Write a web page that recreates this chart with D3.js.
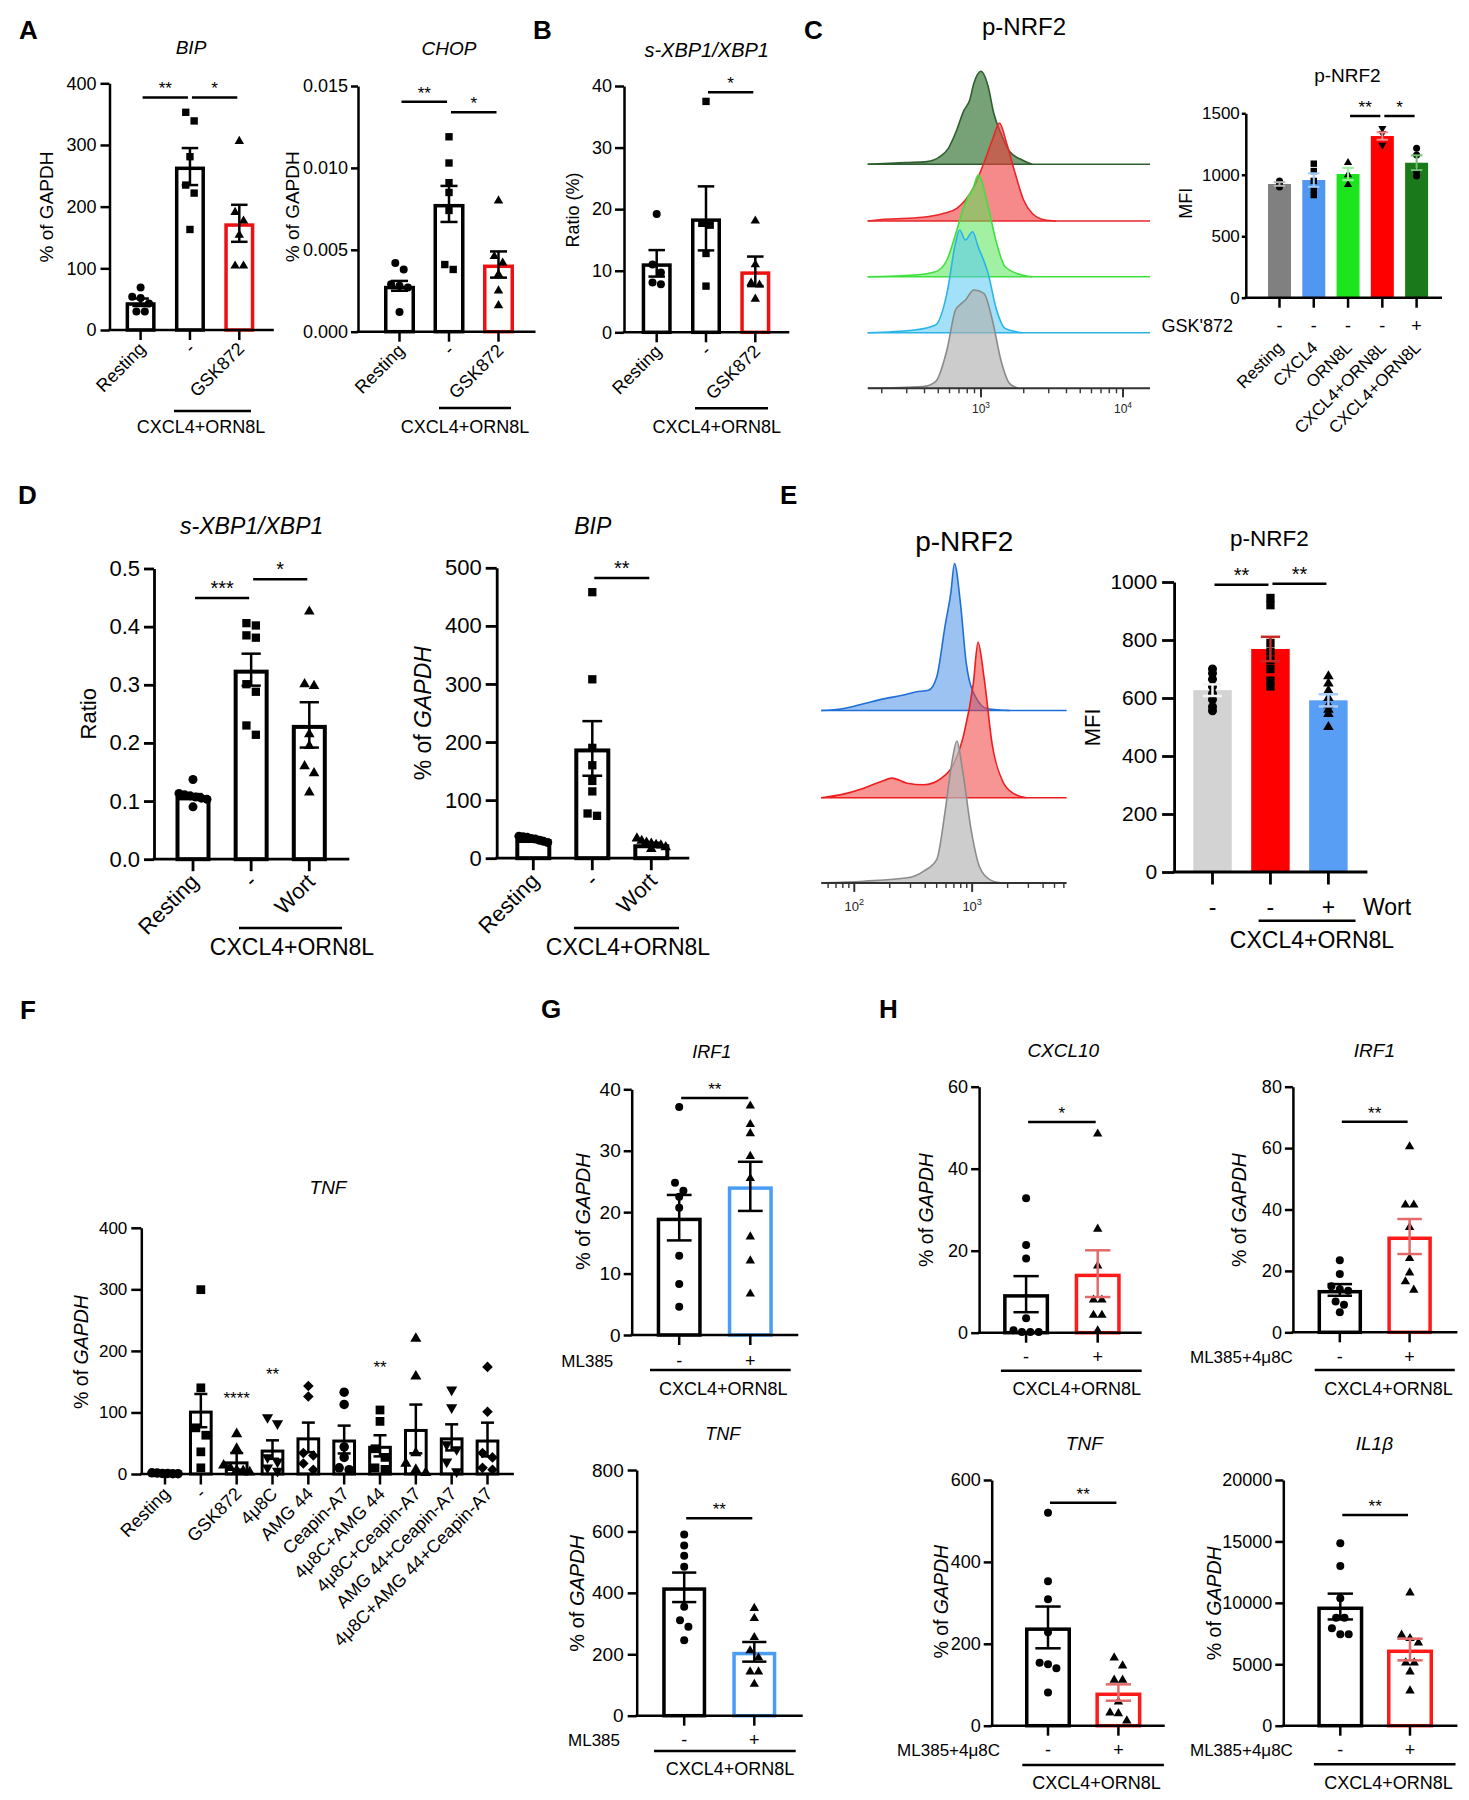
<!DOCTYPE html>
<html><head><meta charset="utf-8">
<script src="https://cdn.jsdelivr.net/npm/d3@7"></script>
<style>body{margin:0;background:#fff} svg{display:block}</style>
</head><body>
<svg id="fig" width="1469" height="1800"></svg>
<script>
// ================= DATA =================
// Panel A - BIP
const A_BIP_cats = ["Resting", "-", "GSK872"];
const A_BIP_means = [45, 265, 173];
const A_BIP_sem = [6, 30, 30];
const A_BIP_pts = [[69,54,52,43,30,30],[353,339,281,235,222,163],[306,191,177,154,104,104]];
const A_BIP_ticks = [0,100,200,300,400];
// Panel A - CHOP
const A_CHOP_cats = ["Resting", "-", "GSK872"];
const A_CHOP_means = [0.0028, 0.0078, 0.0041];
const A_CHOP_sem = [0.0003, 0.0011, 0.0008];
const A_CHOP_pts = [[0.0042,0.0038,0.0029,0.0028,0.0027,0.0012],[0.0119,0.0103,0.0091,0.0085,0.0074,0.0041,0.0038],[0.0080,0.0046,0.0042,0.0035,0.0025,0.0016]];
const A_CHOP_ticks = [0,0.005,0.010,0.015];
// Panel B
const B_cats = ["Resting", "-", "GSK872"];
const B_means = [11.2, 18.5, 9.9];
const B_sem = [2.15, 5.2, 2.4];
const B_pts = [[19.2,11,9.7,7.8,8.1],[37.5,17.7,17.4,12.8,7.5],[18.1,11,8,7.7,5.4]];
const B_ticks = [0,10,20,30,40];
// Panel C - bars
const C_cats = ["Resting","CXCL4","ORN8L","CXCL4+ORN8L","CXCL4+ORN8L"];
const C_gsk = ["-","-","-","-","+"];
const C_means = [925, 957, 1006, 1315, 1098];
const C_sem = [15, 55, 50, 30, 60];
const C_pts = [[950,925,900],[1090,1030,950,880,835],[1098,1000,920],[1378,1337,1242],[1215,1161,1025,990]];
const C_ticks = [0,500,1000,1500];
// Panel C - histograms [log10(intensity), count]
const C_hist_darkgreen = [[2.20,0],[2.47,1.7],[2.62,2.7],[2.71,7.7],[2.77,16],[2.82,31],[2.88,54],[2.92,64],[2.95,81],[3.0,93],[3.05,78],[3.09,51],[3.14,31],[3.2,13],[3.29,4.3],[3.36,0]];
const C_hist_red = [[2.20,0],[2.32,1.7],[2.59,3.7],[2.74,7.7],[2.83,12.7],[2.89,21],[2.95,34],[3.02,58],[3.08,81],[3.13,98],[3.18,78],[3.24,48],[3.30,21],[3.36,7.7],[3.45,1],[3.53,0]];
const C_hist_green = [[2.20,0],[2.53,1.7],[2.68,5],[2.76,16.7],[2.83,46.7],[2.88,70],[2.91,80],[2.94,86.7],[2.98,101.7],[3.05,70],[3.11,33.3],[3.17,10],[3.29,1.7],[3.36,0]];
const C_hist_cyan = [[2.20,0],[2.53,2.7],[2.68,7.7],[2.76,39.3],[2.82,89.3],[2.85,102.7],[2.89,92.7],[2.94,101],[2.98,86],[3.05,59.3],[3.11,22.7],[3.17,4.3],[3.29,0]];
const C_hist_gray = [[2.20,0],[2.59,1.7],[2.68,6.7],[2.76,38.3],[2.82,78.3],[2.85,83.3],[2.89,88.3],[2.95,98.3],[3.02,95],[3.08,68.3],[3.14,28.3],[3.20,5],[3.26,0]];
// Panel D - s-XBP1/XBP1
const D_X_cats = ["Resting", "-", "Wort"];
const D_X_means = [0.108, 0.326, 0.231];
const D_X_sem = [0.004, 0.0275, 0.039];
const D_X_pts = [[0.137,0.113,0.111,0.109,0.107,0.105,0.103,0.090],[0.406,0.402,0.385,0.381,0.301,0.288,0.230,0.214],[0.426,0.301,0.298,0.215,0.195,0.160,0.148,0.115]];
const D_X_ticks = [0,0.1,0.2,0.3,0.4,0.5];
// Panel D - BIP
const D_B_cats = ["Resting", "-", "Wort"];
const D_B_means = [33, 189, 24];
const D_B_sem = [2, 47, 2.5];
const D_B_pts = [[38,37,36,34,33,31,29,27],[458,308,190,160,133,115,77,73],[34,30,27,25,23,22,19,16]];
const D_B_ticks = [0,100,200,300,400,500];
// Panel E - bars
const E_signs = ["-","-","+"];
const E_means = [627, 769, 592];
const E_sem = [20, 42, 21];
const E_pts = [[700,685,665,640,615,595,570,556],[945,920,790,760,730,700,660,640],[675,650,625,600,575,560,545,500]];
const E_ticks = [0,200,400,600,800,1000];
// Panel E - histograms
const E_hist_blue = [[1.72,0],[1.90,1.7],[2.08,6.7],[2.26,11.7],[2.41,15],[2.52,18.3],[2.63,20],[2.70,33.3],[2.77,83.3],[2.82,116.7],[2.85,145],[2.90,106.7],[2.95,46.7],[3.03,13.3],[3.13,1.7],[3.32,0]];
const E_hist_red = [[1.72,0],[1.90,3.3],[2.08,9.3],[2.23,16],[2.32,19.3],[2.45,14.3],[2.59,12.7],[2.74,19.3],[2.84,32.7],[2.93,62.7],[3.01,112.7],[3.05,153.3],[3.10,119.3],[3.17,52.7],[3.26,16],[3.35,4.3],[3.46,0]];
const E_hist_gray = [[1.72,0],[2.08,1.7],[2.45,5],[2.59,11.7],[2.70,23.3],[2.77,70],[2.83,120],[2.87,140],[2.92,110],[2.99,53.3],[3.06,16.7],[3.15,3.3],[3.24,0]];
// Panel F - TNF
const F_cats = ["Resting","-","GSK872","4\u03bc8C","AMG 44","Ceapin-A7","4\u03bc8C+AMG 44","4\u03bc8C+Ceapin-A7","AMG 44+Ceapin-A7","4\u03bc8C+AMG 44+Ceapin-A7"];
const F_means = [1, 103, 20.5, 39.7, 59.5, 56, 45.8, 73.2, 59.5, 56];
const F_sem = [0.5, 27, 13.5, 15, 24, 22.6, 17.2, 39.6, 21.2, 27.4];
const F_pts = [[2,1.5,1,1,0.5,0.5],[299.5,140,75,63,36,10],[65,41,14,10,6,5,3],[92,82,27,20,10,5],[143,126,34,30,17,7],[133,113,44,27,10,7],[104,85.5,41,27,10,7.5],[220,158.6,34,17,7,2],[137,108,48,40,20,4],[174,101,34,27,10,7]];
const F_stars = [[2,"****"],[3,"**"],[6,"**"]];
const F_ticks = [0,100,200,300,400];
// Panel G
const G_signs = ["-","+"];
const G_IRF1_means = [19.1, 24.2];
const G_IRF1_sem = [3.7, 4.0];
const G_IRF1_pts = [[37.1,24.8,23.5,22.5,20.7,12.9,8.3,4.6],[37.3,34.3,32.8,29.1,25.5,16,12.1,6.7]];
const G_IRF1_ticks = [0,10,20,30,40];
const G_TNF_means = [418, 208];
const G_TNF_sem = [48, 32];
const G_TNF_pts = [[590,554,521,485,355,311,290,246],[350,317,255,212,189,143,143,103]];
const G_TNF_ticks = [0,200,400,600,800];
// Panel H
const H_signs = ["-","+"];
const H_CXCL10_means = [9.4, 14.4];
const H_CXCL10_sem = [4.4, 5.7];
const H_CXCL10_pts = [[32.8,21.4,18.1,3.5,0.6,0.2,0.2,0.2],[48.5,25.3,16.3,8,8,4.3,4.3,0.5]];
const H_CXCL10_ticks = [0,20,40,60];
const H_IRF1_means = [13.8, 31.2];
const H_IRF1_sem = [1.9, 5.7];
const H_IRF1_pts = [[23.5,19,15,14,13.5,10,9,6.5],[60.5,41.5,41.5,34.2,24.1,19.4,16.5,13.8]];
const H_IRF1_ticks = [0,20,40,60,80];
const H_TNF_means = [240, 81];
const H_TNF_sem = [51, 20];
const H_TNF_pts = [[520,353,309,228,154,150,140,81],[166,146.5,111.5,111.5,58.6,31.7,30,12.2]];
const H_TNF_ticks = [0,200,400,600];
const H_IL1B_means = [9700, 6200];
const H_IL1B_sem = [1050, 880];
const H_IL1B_pts = [[14844,13000,10366,8792,8792,7924,7436,7436],[10828,7381,7110,6757,5129,5129,4396,2849]];
const H_IL1B_ticks = [0,5000,10000,15000,20000];

const GROUP = "CXCL4+ORN8L";
const GAPDH_LABEL = [{t:"% of "},{t:"GAPDH", i:true}];

// ================= DRAWING =================
const FONT = '"Liberation Sans", Arial, Helvetica, sans-serif';
const svg = d3.select("#fig");
svg.append("rect").attr("width",1469).attr("height",1800).attr("fill","#fff");

function addText(g, txt, x, y, o = {}) {
  const t = g.append("text").attr("x", x).attr("y", y)
    .attr("font-family", FONT).attr("fill", o.fill || "#000")
    .attr("font-size", o.size || 18).attr("text-anchor", o.anchor || "middle")
    .attr("font-style", o.italic ? "italic" : "normal")
    .attr("font-weight", o.bold ? "bold" : "normal");
  if (o.rotate != null) t.attr("transform", `rotate(${o.rotate},${x},${y})`);
  if (o.baseline) t.attr("dominant-baseline", o.baseline);
  if (Array.isArray(txt)) txt.forEach(p => t.append("tspan").attr("font-style", p.i ? "italic" : "normal").text(p.t));
  else t.text(txt);
  return t;
}

function marker(g, type, x, y, m) {
  let sym, size, rot = 0;
  switch (type) {
    case "circle": sym = d3.symbolCircle; size = Math.PI * m * m / 4; break;
    case "square": sym = d3.symbolSquare; size = m * m * 0.85; break;
    case "triangle": sym = d3.symbolTriangle; size = m * m * 0.6; break;
    case "tridown": sym = d3.symbolTriangle; size = m * m * 0.6; rot = 180; break;
    case "diamond": sym = d3.symbolSquare; size = m * m * 0.62; rot = 45; break;
  }
  g.append("path").attr("d", d3.symbol(sym, size)())
    .attr("transform", `translate(${x},${y}) rotate(${rot})`).attr("fill", "#000");
}

function swarm(vals, y, m, maxW, jit) {
  const pts = vals.map(v => ({ v, py: y(v), dx: 0 })).sort((a, b) => a.py - b.py);
  if (!jit) return pts;
  const rows = []; let cur = null;
  pts.forEach(p => {
    if (cur && p.py - cur[0].py < m * 1.1) cur.push(p);
    else { cur = [p]; rows.push(cur); }
  });
  rows.forEach(r => {
    const k = r.length; let step = m * jit;
    if (k > 1 && (k - 1) * step > maxW) step = maxW / (k - 1);
    r.forEach((p, i) => p.dx = (i - (k - 1) / 2) * step);
  });
  return pts;
}

function barChart(D, L) {
  const g = svg.append("g");
  const n = D.means.length;
  const y = d3.scaleLinear().domain([0, L.max]).range([L.yb, L.yt]);
  const x = d3.scalePoint().domain(d3.range(n)).range([L.c0, L.c1]);
  const bsw = L.bsw || 3.5, aw = L.aw || 2.5;
  D.means.forEach((v, i) => {
    const cx = x(i), col = L.colors[i];
    if (L.filled) {
      g.append("rect").attr("x", cx - L.barW / 2).attr("y", y(v)).attr("width", L.barW)
        .attr("height", L.yb - y(v)).attr("fill", col);
    } else {
      g.append("rect").attr("x", cx - L.barW / 2 + bsw / 2).attr("y", y(v) + bsw / 2)
        .attr("width", L.barW - bsw).attr("height", Math.max(0, L.yb - y(v) - bsw / 2))
        .attr("fill", "#fff").attr("stroke", col).attr("stroke-width", bsw);
    }
  });
  D.pts.forEach((arr, i) => {
    const sw = swarm(arr, y, L.mSize, L.barW * (L.spread || 0.8), L.jitter === undefined ? 1.05 : L.jitter);
    sw.forEach(p => marker(g, L.markers[i], x(i) + p.dx, p.py, L.mSize));
  });
  D.means.forEach((v, i) => {
    const cx = x(i), s = D.sem[i];
    const col = (L.errColors || [])[i] || "#000";
    const cw = L.barW * (L.capF || 0.55);
    const y1 = y(v + s), y2 = y(Math.max(0, v - s));
    const ew = L.ew || 2.5;
    g.append("line").attr("x1", cx).attr("x2", cx).attr("y1", y1).attr("y2", y2).attr("stroke", col).attr("stroke-width", ew);
    [y1, y2].forEach(yy => g.append("line").attr("x1", cx - cw / 2).attr("x2", cx + cw / 2)
      .attr("y1", yy).attr("y2", yy).attr("stroke", col).attr("stroke-width", ew));
  });
  const ya = d3.axisLeft(y).tickValues(D.ticks).tickFormat(L.fmt || d3.format("d"))
    .tickSize(L.tickLen).tickPadding(L.tickPad).tickSizeOuter(0);
  const ag = g.append("g").attr("transform", `translate(${L.ax},0)`).call(ya);
  ag.attr("font-family", FONT);
  ag.select(".domain").attr("stroke", "#000").attr("stroke-width", aw);
  ag.selectAll(".tick line").attr("stroke", "#000").attr("stroke-width", aw);
  ag.selectAll(".tick text").attr("font-size", L.tickFont).attr("font-family", FONT).attr("fill", "#000");
  g.append("line").attr("x1", L.ax - aw / 2).attr("x2", L.axEnd).attr("y1", L.yb).attr("y2", L.yb)
    .attr("stroke", "#000").attr("stroke-width", aw);
  d3.range(n).forEach(i => g.append("line").attr("x1", x(i)).attr("x2", x(i))
    .attr("y1", L.yb).attr("y2", L.yb + L.xTickLen).attr("stroke", "#000").attr("stroke-width", aw));
  if (L.rot) D.cats.forEach((c, i) => addText(g, c, x(i) + L.rot.dx, L.yb + L.rot.dy,
    { size: L.rot.size, anchor: "end", rotate: -45 }));
  if (L.signs) {
    D.signs.forEach((s, i) => addText(g, s, x(i), L.signs.y, { size: L.signs.size }));
    if (D.signLabel) addText(g, D.signLabel, L.signs.lx, L.signs.y, { size: L.signs.lsize || L.signs.size, anchor: L.signs.anchor || "end" });
  }
  if (L.group) {
    g.append("line").attr("x1", L.group.x1).attr("x2", L.group.x2).attr("y1", L.group.y).attr("y2", L.group.y)
      .attr("stroke", "#000").attr("stroke-width", 2.5);
    addText(g, GROUP, L.group.lx, L.group.ly, { size: L.group.size });
  }
  (D.sig || []).forEach((s, k) => {
    const yy = y(L.sigLevels[k]);
    const x1 = x(s[0]) + 2, x2 = x(s[1]) - 2;
    g.append("line").attr("x1", x1).attr("x2", x2).attr("y1", yy).attr("y2", yy).attr("stroke", "#000").attr("stroke-width", 2.5);
    addText(g, s[2], (x1 + x2) / 2, yy - (L.starGap || 3), { size: L.starSize || 17 });
  });
  (D.stars || []).forEach((s, k) => {
    addText(g, s[1], x(s[0]), y(L.starLevels[k]) + 6, { size: L.starSize || 16 });
  });
  addText(g, D.title, L.title.x, L.title.y, { size: L.title.size, italic: L.title.italic });
  addText(g, D.ylabel, L.ylabel.x, L.ylabel.y, { size: L.ylabel.size, rotate: -90, baseline: "central" });
}

function histogram(series, L) {
  const g = svg.append("g");
  const x = d3.scaleLog().domain(L.domain).range([L.x0, L.x1]);
  const hs = L.hs || 1;
  series.forEach((s, k) => {
    const base = L.bases[k];
    const area = d3.area().x(d => x(Math.pow(10, d[0]))).y0(base).y1(d => base - d[1] * hs).curve(d3.curveMonotoneX);
    const line = d3.line().x(d => x(Math.pow(10, d[0]))).y(d => base - d[1] * hs).curve(d3.curveMonotoneX);
    g.append("path").attr("d", area(s.data)).attr("fill", s.fill).attr("fill-opacity", s.op);
    if (k < series.length - 1)
      g.append("line").attr("x1", L.x0).attr("x2", L.x1).attr("y1", base).attr("y2", base).attr("stroke", s.stroke).attr("stroke-width", 1.6);
    g.append("path").attr("d", line(s.data)).attr("fill", "none").attr("stroke", s.stroke).attr("stroke-width", 1.6);
  });
  const ay = L.bases[L.bases.length - 1];
  g.append("line").attr("x1", L.x0).attr("x2", L.x1).attr("y1", ay).attr("y2", ay).attr("stroke", "#333").attr("stroke-width", 2);
  const [lo, hi] = L.domain;
  for (let e = Math.floor(Math.log10(lo)); e <= Math.ceil(Math.log10(hi)); e++) {
    for (let m = 1; m <= 9; m++) {
      const v = m * Math.pow(10, e);
      if (v < lo || v > hi) continue;
      const xx = x(v);
      g.append("line").attr("x1", xx).attr("x2", xx).attr("y1", ay).attr("y2", ay + (m === 1 ? 9 : 5))
        .attr("stroke", "#333").attr("stroke-width", m === 1 ? 2 : 1.4);
      if (m === 1) {
        const t = g.append("text").attr("x", xx).attr("y", L.labelY).attr("text-anchor", "middle")
          .attr("font-family", FONT).attr("font-size", L.labelSize).attr("fill", "#222");
        t.append("tspan").text("10");
        t.append("tspan").attr("dy", -L.labelSize * 0.45).attr("font-size", L.labelSize * 0.7).text(String(e));
      }
    }
  }
  addText(g, L.title, L.tx, L.ty, { size: L.tsize });
}

// ---- panel letters ----
[["A",19,38.5],["B",533,38.5],["C",804,38.5],["D",18,504],["E",780,504],["F",20,1019],["G",541,1018],["H",879,1018]]
  .forEach(p => addText(svg, p[0], p[1], p[2], { size: 26, bold: true, anchor: "start" }));

// ---- A ----
barChart({ cats: A_BIP_cats, means: A_BIP_means, sem: A_BIP_sem, pts: A_BIP_pts, ticks: A_BIP_ticks,
  sig: [[0,1,"**"],[1,2,"*"]], title: "BIP", ylabel: "% of GAPDH" },
  { ax: 109.5, axEnd: 273.8, yb: 330, yt: 83.3, max: 400, c0: 140.6, c1: 239.3, barW: 30,
    colors: ["#000","#000","#ee1111"], markers: ["circle","square","triangle"], mSize: 8,
    tickLen: 9, tickPad: 4, tickFont: 18, xTickLen: 10,
    rot: { dx: 6, dy: 20, size: 18 }, group: { x1: 174, x2: 251, y: 411, lx: 201, ly: 433, size: 18 },
    sigLevels: [377, 377], title: { x: 191, y: 53.5, size: 19, italic: true }, ylabel: { x: 46.5, y: 207, size: 19 } });

barChart({ cats: A_CHOP_cats, means: A_CHOP_means, sem: A_CHOP_sem, pts: A_CHOP_pts, ticks: A_CHOP_ticks,
  sig: [[0,1,"**"],[1,2,"*"]], title: "CHOP", ylabel: "% of GAPDH" },
  { ax: 358, axEnd: 535.5, yb: 331.7, yt: 86, max: 0.015, c0: 399.5, c1: 498.5, barW: 31, fmt: d3.format(".3f"),
    colors: ["#000","#000","#ee1111"], markers: ["circle","square","triangle"], mSize: 8,
    tickLen: 7, tickPad: 3, tickFont: 18, xTickLen: 10,
    rot: { dx: 6, dy: 20, size: 18 }, group: { x1: 439, x2: 511, y: 408, lx: 465, ly: 433, size: 18 },
    sigLevels: [0.01404, 0.0134], title: { x: 449, y: 54.5, size: 19, italic: true }, ylabel: { x: 292.7, y: 206.7, size: 19 } });

// ---- B ----
barChart({ cats: B_cats, means: B_means, sem: B_sem, pts: B_pts, ticks: B_ticks,
  sig: [[1,2,"*"]], title: "s-XBP1/XBP1", ylabel: "Ratio (%)" },
  { ax: 624, axEnd: 789.3, yb: 332.3, yt: 86, max: 40, c0: 656.7, c1: 755.3, barW: 30,
    colors: ["#000","#000","#ee1111"], markers: ["circle","square","triangle"], mSize: 8,
    tickLen: 9, tickPad: 3, tickFont: 18, xTickLen: 10,
    rot: { dx: 6, dy: 20, size: 18 }, group: { x1: 695, x2: 768, y: 408.3, lx: 716.7, ly: 433, size: 18 },
    sigLevels: [38.98], title: { x: 706.7, y: 56.5, size: 20, italic: true }, ylabel: { x: 573.3, y: 210, size: 18 } });

// ---- C ----
histogram([
  { data: C_hist_darkgreen, stroke: "#2f5e2f", fill: "#3d7a3d", op: 0.7 },
  { data: C_hist_red, stroke: "#e8262b", fill: "#f03a3a", op: 0.6 },
  { data: C_hist_green, stroke: "#3ee03e", fill: "#55e655", op: 0.55 },
  { data: C_hist_cyan, stroke: "#2ab4e8", fill: "#55c8f0", op: 0.55 },
  { data: C_hist_gray, stroke: "#8a8a8a", fill: "#b0b0b0", op: 0.65 }],
  { domain: [160, 15500], x0: 868, x1: 1150, bases: [164.3, 221, 276.7, 332.7, 388.3],
    labelY: 413, labelSize: 12, title: "p-NRF2", tx: 1024, ty: 35, tsize: 24 });

barChart({ cats: C_cats, signs: C_gsk, signLabel: "GSK'872", means: C_means, sem: C_sem, pts: C_pts, ticks: C_ticks,
  sig: [[2,3,"**"],[3,4,"*"]], title: "p-NRF2", ylabel: "MFI" },
  { ax: 1245.8, axEnd: 1442, yb: 297.7, yt: 113.3, max: 1500, c0: 1279.5, c1: 1416.6, barW: 23, filled: true,
    colors: ["#808080","#4f97f0","#1de51d","#ff0000","#1a7a1a"], errColors: ["#b5b5b5","#a4cbf8","#9af29a","#ff8a8a","#6fbf6f"],
    markers: ["circle","square","triangle","tridown","circle"], mSize: 7, jitter: 0, capF: 0.5, ew: 2,
    tickLen: 4, tickPad: 2, tickFont: 17, xTickLen: 10,
    rot: { dx: 5, dy: 51, size: 17 }, signs: { y: 332, size: 18, lx: 1233 },
    sigLevels: [1478, 1478], title: { x: 1347.4, y: 82, size: 19 }, ylabel: { x: 1186, y: 203.3, size: 18 } });

// ---- D ----
barChart({ cats: D_X_cats, means: D_X_means, sem: D_X_sem, pts: D_X_pts, ticks: D_X_ticks,
  sig: [[0,1,"***"],[1,2,"*"]], title: "s-XBP1/XBP1", ylabel: "Ratio" },
  { ax: 154, axEnd: 349.3, yb: 859.2, yt: 568.5, max: 0.5, c0: 193, c1: 309.3, barW: 35, bsw: 4, fmt: d3.format(".1f"),
    colors: ["#000","#000","#000"], markers: ["circle","square","triangle"], mSize: 9, aw: 2.8,
    tickLen: 10, tickPad: 4, tickFont: 22, xTickLen: 12, starSize: 20,
    rot: { dx: 7, dy: 24, size: 22 }, group: { x1: 239, x2: 342, y: 928, lx: 292, ly: 955, size: 23 },
    sigLevels: [0.4494, 0.4815], title: { x: 251.7, y: 534, size: 23, italic: true }, ylabel: { x: 88.3, y: 713.8, size: 22 } });

barChart({ cats: D_B_cats, means: D_B_means, sem: D_B_sem, pts: D_B_pts, ticks: D_B_ticks,
  sig: [[1,2,"**"]], title: "BIP", ylabel: GAPDH_LABEL },
  { ax: 496.7, axEnd: 689.3, yb: 858.2, yt: 567.8, max: 500, c0: 533.3, c1: 651.3, barW: 36, bsw: 4,
    colors: ["#000","#000","#000"], markers: ["circle","square","triangle"], mSize: 9, aw: 2.8,
    tickLen: 11, tickPad: 4, tickFont: 22, xTickLen: 12, starSize: 20,
    rot: { dx: 7, dy: 24, size: 22 }, group: { x1: 574, x2: 679, y: 928, lx: 628, ly: 955, size: 23 },
    sigLevels: [482.5], title: { x: 592.7, y: 534, size: 23, italic: true }, ylabel: { x: 423.3, y: 713.2, size: 23 } });

// ---- E ----
histogram([
  { data: E_hist_blue, stroke: "#1f6fd8", fill: "#4a90e8", op: 0.55 },
  { data: E_hist_red, stroke: "#ee1c1c", fill: "#f03c3c", op: 0.55 },
  { data: E_hist_gray, stroke: "#8c8c8c", fill: "#b8b8b8", op: 0.7 }],
  { domain: [52.5, 6330], x0: 821.3, x1: 1066.6, bases: [710.5, 797.7, 882.9], hs: 1.014,
    labelY: 911, labelSize: 13, title: "p-NRF2", tx: 964.2, ty: 551, tsize: 28 });

barChart({ signs: E_signs, signLabel: "Wort", means: E_means, sem: E_sem, pts: E_pts, ticks: E_ticks,
  sig: [[0,1,"**"],[1,2,"**"]], title: "p-NRF2", ylabel: "MFI" },
  { ax: 1174.1, axEnd: 1367.4, yb: 872, yt: 582, max: 1000, c0: 1212.5, c1: 1328.4, barW: 38.5, filled: true,
    colors: ["#d3d3d3","#ff0000","#589ef5"], errColors: ["#f4f4f4","#c82828","#a9cdfa"],
    markers: ["circle","square","triangle"], mSize: 9, jitter: 0, capF: 0.5, aw: 2.8,
    tickLen: 12, tickPad: 5, tickFont: 21, xTickLen: 12.5, starSize: 20,
    signs: { y: 914.5, size: 23, lx: 1363, anchor: "start" },
    group: { x1: 1258.6, x2: 1355.5, y: 920.7, lx: 1312, ly: 947.5, size: 23 },
    sigLevels: [990.6, 994], title: { x: 1269.3, y: 546, size: 22.5 }, ylabel: { x: 1092.2, y: 727.4, size: 22 } });

// ---- F ----
barChart({ cats: F_cats, means: F_means, sem: F_sem, pts: F_pts, ticks: F_ticks, stars: F_stars,
  title: "TNF", ylabel: GAPDH_LABEL },
  { ax: 141.3, axEnd: 513.9, yb: 1474, yt: 1227.8, max: 400, c0: 165, c1: 487.5, barW: 23.7, bsw: 3,
    colors: Array(10).fill("#000"),
    markers: ["circle","square","triangle","tridown","diamond","circle","square","triangle","tridown","diamond"],
    mSize: 9.5, spread: 1.1, tickLen: 10, tickPad: 4, tickFont: 17, xTickLen: 10.5, starSize: 17,
    rot: { dx: 6, dy: 21, size: 18 }, starLevels: [124, 162.7, 174.4],
    title: { x: 328, y: 1194, size: 19, italic: true }, ylabel: { x: 81, y: 1352, size: 19.5 } });

// ---- G ----
barChart({ signs: G_signs, signLabel: "ML385", means: G_IRF1_means, sem: G_IRF1_sem, pts: G_IRF1_pts, ticks: G_IRF1_ticks,
  sig: [[0,1,"**"]], title: "IRF1", ylabel: GAPDH_LABEL },
  { ax: 631.7, axEnd: 798.3, yb: 1335, yt: 1089.3, max: 40, c0: 679.2, c1: 750.3, barW: 45,
    colors: ["#000","#4a9cf5"], markers: ["circle","triangle"], mSize: 8,
    tickLen: 8, tickPad: 3, tickFont: 19, xTickLen: 10,
    signs: { y: 1367, size: 18, lsize: 17, lx: 613.3 },
    group: { x1: 650, x2: 790.7, y: 1370, lx: 723.3, ly: 1394.5, size: 18 },
    sigLevels: [38.6], title: { x: 711.7, y: 1058, size: 18, italic: true }, ylabel: { x: 583.3, y: 1211.7, size: 20 } });

barChart({ signs: G_signs, signLabel: "ML385", means: G_TNF_means, sem: G_TNF_sem, pts: G_TNF_pts, ticks: G_TNF_ticks,
  sig: [[0,1,"**"]], title: "TNF", ylabel: GAPDH_LABEL },
  { ax: 636.7, axEnd: 802.7, yb: 1715.7, yt: 1470, max: 800, c0: 684.2, c1: 754.3, barW: 44,
    colors: ["#000","#4a9cf5"], markers: ["circle","triangle"], mSize: 8,
    tickLen: 9, tickPad: 4, tickFont: 19, xTickLen: 10,
    signs: { y: 1746, size: 18, lsize: 17, lx: 620 },
    group: { x1: 654, x2: 795.7, y: 1751, lx: 730, ly: 1774.5, size: 18 },
    sigLevels: [642.7], title: { x: 722.7, y: 1440, size: 18, italic: true }, ylabel: { x: 576.7, y: 1593.3, size: 20 } });

// ---- H ----
barChart({ signs: H_signs, means: H_CXCL10_means, sem: H_CXCL10_sem, pts: H_CXCL10_pts, ticks: H_CXCL10_ticks,
  sig: [[0,1,"*"]], title: "CXCL10", ylabel: GAPDH_LABEL },
  { ax: 979.1, axEnd: 1141.7, yb: 1332.7, yt: 1086.7, max: 60, c0: 1026.1, c1: 1097.7, barW: 46,
    colors: ["#000","#ff1a1a"], errColors: ["#000","#e46a6a"], markers: ["circle","triangle"], mSize: 8,
    tickLen: 8, tickPad: 3, tickFont: 18, xTickLen: 10,
    signs: { y: 1362.7, size: 18 },
    group: { x1: 1000.9, x2: 1141.7, y: 1370.7, lx: 1076.7, ly: 1394.5, size: 18 },
    sigLevels: [51.4], title: { x: 1063.3, y: 1057, size: 19, italic: true }, ylabel: { x: 925.5, y: 1210, size: 19.5 } });

barChart({ signs: H_signs, signLabel: "ML385+4\u03bc8C", means: H_IRF1_means, sem: H_IRF1_sem, pts: H_IRF1_pts, ticks: H_IRF1_ticks,
  sig: [[0,1,"**"]], title: "IRF1", ylabel: GAPDH_LABEL },
  { ax: 1292.9, axEnd: 1457.4, yb: 1332.3, yt: 1086.7, max: 80, c0: 1339.8, c1: 1409.6, barW: 44.5,
    colors: ["#000","#ff1a1a"], errColors: ["#000","#e46a6a"], markers: ["circle","triangle"], mSize: 8,
    tickLen: 8, tickPad: 3, tickFont: 18, xTickLen: 10,
    signs: { y: 1362.7, size: 18, lsize: 17, lx: 1292.9 },
    group: { x1: 1314.7, x2: 1454.8, y: 1370, lx: 1388.6, ly: 1394.5, size: 18 },
    sigLevels: [68.6], title: { x: 1374.4, y: 1057, size: 19, italic: true }, ylabel: { x: 1239.3, y: 1210, size: 19.5 } });

barChart({ signs: H_signs, signLabel: "ML385+4\u03bc8C", means: H_TNF_means, sem: H_TNF_sem, pts: H_TNF_pts, ticks: H_TNF_ticks,
  sig: [[0,1,"**"]], title: "TNF", ylabel: GAPDH_LABEL },
  { ax: 991.7, axEnd: 1164.7, yb: 1725.7, yt: 1480, max: 600, c0: 1048, c1: 1118.4, barW: 46,
    colors: ["#000","#ff1a1a"], errColors: ["#000","#e46a6a"], markers: ["circle","triangle"], mSize: 8,
    tickLen: 8, tickPad: 3, tickFont: 18, xTickLen: 10,
    signs: { y: 1756, size: 18, lsize: 17, lx: 1000 },
    group: { x1: 1022.3, x2: 1163.9, y: 1765, lx: 1096.6, ly: 1789, size: 18 },
    sigLevels: [544.6], title: { x: 1084.3, y: 1450, size: 19, italic: true }, ylabel: { x: 940.8, y: 1601.7, size: 19.5 } });

barChart({ signs: H_signs, signLabel: "ML385+4\u03bc8C", means: H_IL1B_means, sem: H_IL1B_sem, pts: H_IL1B_pts, ticks: H_IL1B_ticks,
  sig: [[0,1,"**"]], title: "IL1\u03b2", ylabel: GAPDH_LABEL },
  { ax: 1283.3, axEnd: 1457.4, yb: 1725.7, yt: 1480, max: 20000, c0: 1340.3, c1: 1410, barW: 46,
    colors: ["#000","#ff1a1a"], errColors: ["#000","#e46a6a"], markers: ["circle","triangle"], mSize: 8,
    tickLen: 8, tickPad: 3, tickFont: 18, xTickLen: 10,
    signs: { y: 1756, size: 18, lsize: 17, lx: 1292.9 },
    group: { x1: 1313.9, x2: 1455.5, y: 1764.3, lx: 1388.6, ly: 1789, size: 18 },
    sigLevels: [17151], title: { x: 1374.4, y: 1450, size: 19, italic: true }, ylabel: { x: 1214.4, y: 1603.3, size: 19.5 } });
</script>
</body></html>
